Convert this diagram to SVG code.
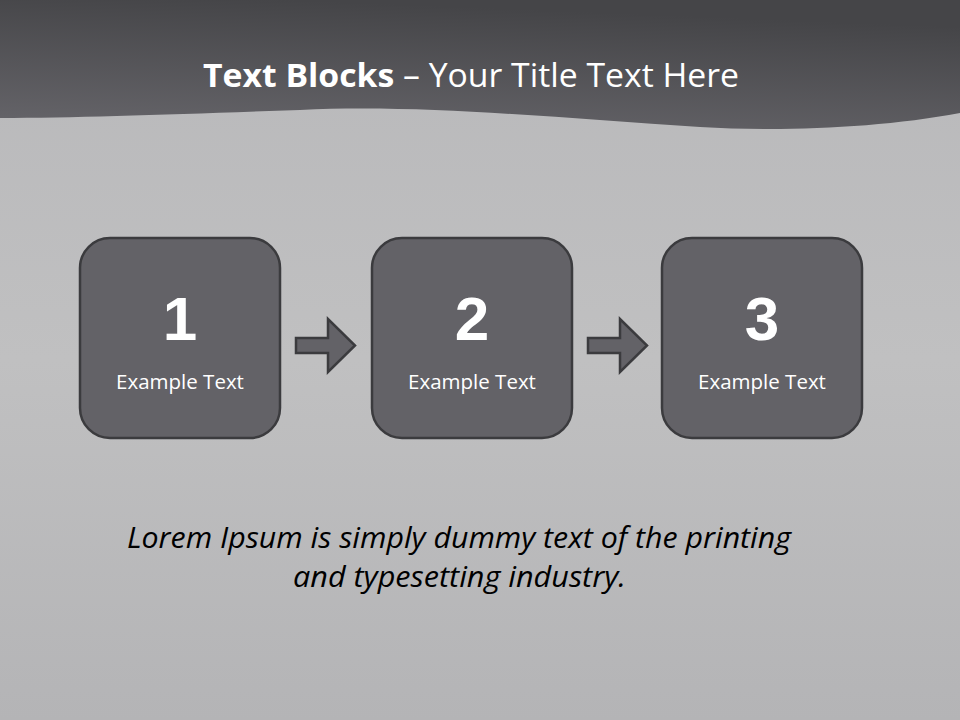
<svg xmlns="http://www.w3.org/2000/svg" width="960" height="720" viewBox="0 0 960 720">
<defs>
<linearGradient id="bg" x1="0" y1="0" x2="0" y2="1">
<stop offset="0" stop-color="#b8b8ba"/>
<stop offset="0.5" stop-color="#c0c0c1"/>
<stop offset="1" stop-color="#b4b4b6"/>
</linearGradient>
<linearGradient id="hdr" x1="0" y1="1" x2="0.3" y2="0">
<stop offset="0" stop-color="#66656a"/>
<stop offset="1" stop-color="#454548"/>
</linearGradient>
<style>
.box{fill:#636267;stroke:#3b3b3e;stroke-width:2.5}
.arr{fill:#636267;stroke:#3b3b3e;stroke-width:2.5;stroke-linejoin:miter}
.num{font-family:"Liberation Sans",Arial,sans-serif;font-weight:bold;font-size:62px;fill:#ffffff;text-anchor:middle}
.lbl{font-family:"Open Sans","Noto Sans",sans-serif;font-size:20.5px;fill:#ffffff;text-anchor:middle}
.body{font-family:"Open Sans","Noto Sans",sans-serif;font-style:italic;font-size:29px;fill:#000000;text-anchor:middle}
.ttl{font-family:"Open Sans","Noto Sans",sans-serif;font-size:32px;fill:#ffffff;text-anchor:middle}
</style>
</defs>
<rect x="0" y="0" width="960" height="720" fill="url(#bg)"/>
<path d="M0,0 H960 V113 C880,128 780,132 700,127 C560,118 420,104 300,110 C180,114 80,118 0,118 Z" fill="url(#hdr)"/>
<text class="ttl" x="471" y="87" textLength="536" lengthAdjust="spacingAndGlyphs"><tspan font-weight="bold">Text Blocks</tspan> – Your Title Text Here</text>
<g id="connectors">
<path class="arr" d="M296,338 H328 V319 L355,345.5 L328,372 V353 H296 Z"/>
<path class="arr" d="M588,338 H620 V319 L647,345.5 L620,372 V353 H588 Z"/>
</g>
<g id="node1">
<rect class="box" x="80" y="238" width="200" height="200" rx="30"/>
<text class="num" x="180" y="340">1</text>
<text class="lbl" x="180" y="389">Example Text</text>
</g>
<g id="node2">
<rect class="box" x="372" y="238" width="200" height="200" rx="30"/>
<text class="num" x="472" y="340">2</text>
<text class="lbl" x="472" y="389">Example Text</text>
</g>
<g id="node3">
<rect class="box" x="662" y="238" width="200" height="200" rx="30"/>
<text class="num" x="762" y="340">3</text>
<text class="lbl" x="762" y="389">Example Text</text>
</g>
<text class="body" x="459" y="548" textLength="664" lengthAdjust="spacingAndGlyphs">Lorem Ipsum is simply dummy text of the printing</text>
<text class="body" x="459.5" y="587" textLength="333" lengthAdjust="spacingAndGlyphs">and typesetting industry.</text>
</svg>
